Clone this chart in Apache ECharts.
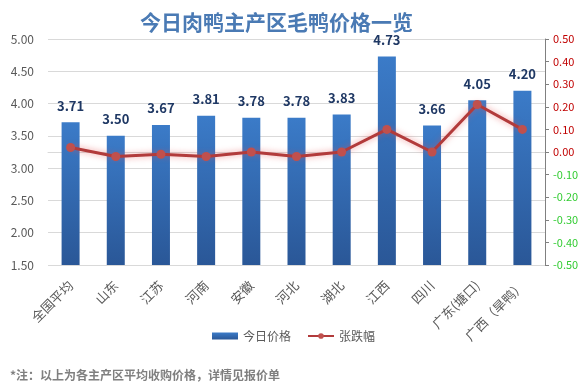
<!DOCTYPE html>
<html><head><meta charset="utf-8">
<script src="https://cdn.jsdelivr.net/npm/echarts@6/dist/echarts.min.js"></script>
<style>html,body{margin:0;padding:0;background:#fff}#c{width:587px;height:389px}</style>
</head><body><div id="c"></div>
<script>
const categories = ['全国平均','山东','江苏','河南','安徽','河北','湖北','江西','四川','广东(塘口)','广西（旱鸭）'];
const prices = [3.71, 3.50, 3.67, 3.81, 3.78, 3.78, 3.83, 4.73, 3.66, 4.05, 4.20];
const changes = [0.02, -0.02, -0.01, -0.02, 0.00, -0.02, 0.00, 0.10, 0.00, 0.21, 0.10];
const titleText = '今日肉鸭主产区毛鸭价格一览';
const noteText = '*注：以上为各主产区平均收购价格，详情见报价单';
const seriesNames = ['今日价格', '张跌幅'];

const font = '"Microsoft YaHei","Noto Sans CJK SC",sans-serif';
const chart = echarts.init(document.getElementById('c'));
chart.setOption({
  animation: false,
  textStyle: {fontFamily: font},
  title: {
    text: titleText, left: 135, top: 7,
    textStyle: {fontSize: 21, fontWeight: 'bold', color: '#4a7ab4', fontFamily: font}
  },
  graphic: [{
    type: 'text', left: 10, top: 369,
    style: {text: noteText, fill: '#7f7f7f', font: 'bold 12px ' + font}
  }],
  legend: {
    bottom: 42, left: 'center', itemGap: 16, itemWidth: 26, itemHeight: 7,
    textStyle: {color: '#595959', fontSize: 12},
    data: [
      {name: seriesNames[0], icon: 'rect'},
      {name: seriesNames[1]}
    ]
  },
  grid: {left: 48, right: 42, top: 39, bottom: 124},
  xAxis: {
    type: 'category', data: categories,
    axisLine: {lineStyle: {color: '#d9d9d9'}},
    axisTick: {show: false},
    axisLabel: {rotate: 45, color: '#595959', fontSize: 13, interval: 0, margin: 18}
  },
  yAxis: [{
    type: 'value', min: 1.5, max: 5, interval: 0.5,
    axisLine: {show: false}, axisTick: {show: false},
    axisLabel: {color: '#595959', fontSize: 12, formatter: v => v.toFixed(2), margin: 14},
    splitLine: {lineStyle: {color: '#d9d9d9'}}
  }, {
    type: 'value', min: -0.5, max: 0.5, interval: 0.1, position: 'right',
    axisLine: {show: true, lineStyle: {color: '#808080'}},
    axisTick: {show: true, length: 4, lineStyle: {color: '#808080'}},
    splitLine: {show: false},
    axisLabel: {
      fontSize: 11, margin: 8,
      formatter: v => {
        const s = (Math.round(v * 100) / 100).toFixed(2);
        return (v < -0.001 ? '{g|' : '{r|') + s + '}';
      },
      rich: {r: {color: '#c00000', fontSize: 11}, g: {color: '#33cc33', fontSize: 11}}
    }
  }],
  series: [{
    name: seriesNames[0], type: 'bar', data: prices, barWidth: 18,
    itemStyle: {
      color: new echarts.graphic.LinearGradient(0, 0, 0, 1, [
        {offset: 0, color: '#3b7bc8'}, {offset: 1, color: '#2a5797'}
      ])
    },
    label: {
      show: true, position: 'top', distance: 10, color: '#1f3864',
      fontSize: 13, fontWeight: 'bold', formatter: p => p.value.toFixed(2)
    }
  }, {
    name: seriesNames[1], type: 'line', yAxisIndex: 1, data: changes,
    symbol: 'circle', symbolSize: 9,
    lineStyle: {color: '#b23b3b', width: 3, shadowColor: 'rgba(230,80,80,0.6)', shadowBlur: 6},
    itemStyle: {color: '#c0504d'}
  }]
});
</script></body></html>
